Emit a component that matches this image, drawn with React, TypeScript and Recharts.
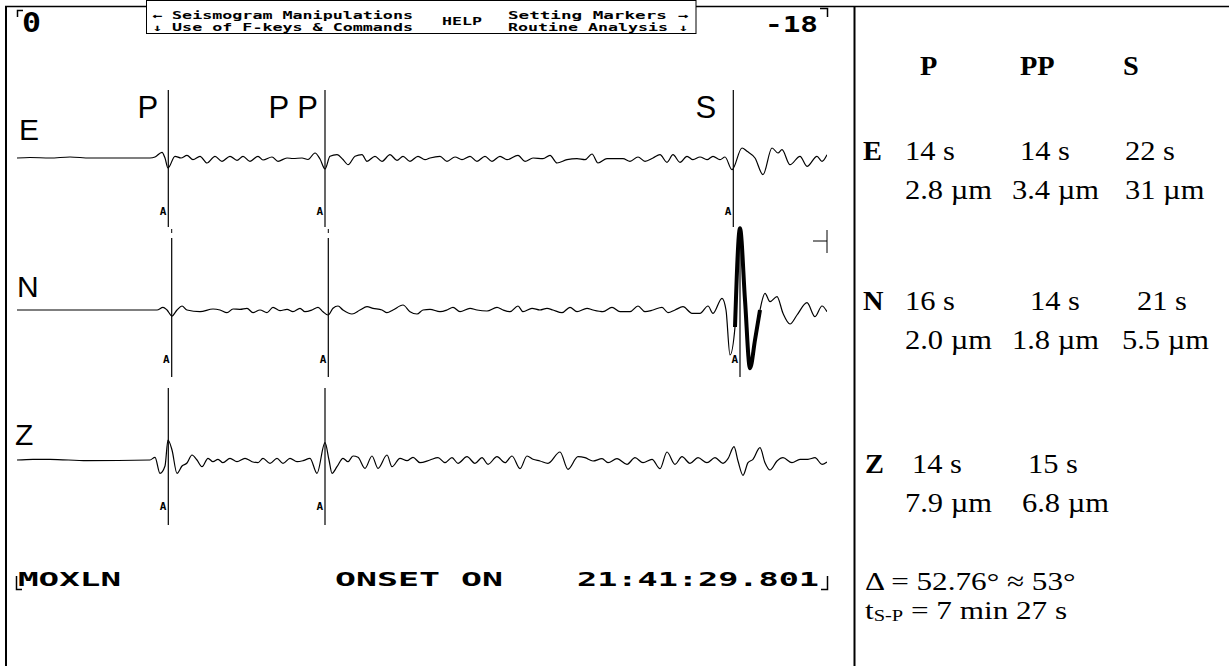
import React from 'react';
import { ComposedChart, Line, XAxis, YAxis, ReferenceLine } from 'recharts';

// t = screen column after the start of the trace, a = deflection (up is positive)
const traceE: [number, number][] = [
  [0, 0], [13, 0.5], [33, 0], [53, 1], [73, 0], [133, 0], [138, 1], [145, 5.7], [148, 0], [151, -10],
  [158, 1.7], [164, 0], [170, 2.7], [176, -1.7], [183, 1.7], [190, -5], [198, 1.7], [205, -3.3], [213, 1.7],
  [220, -2.3], [226, 1.7], [233, -3.3], [241, 1.7], [246, -2], [255, 1], [261, -3.3], [270, 0], [276, -0.5],
  [285, 0], [291, -1.5], [298, 5], [303, -1], [308, -11], [313, 1.7], [320, 3.3], [326, -1.5], [331, -6.7],
  [338, 1.7], [345, 3.3], [350, -3.3], [358, 1.7], [365, -3.3], [373, 3.3], [380, -2.3], [386, 1.7],
  [393, -3.3], [401, 1.7], [408, -1.7], [413, 0], [423, 1.7], [430, -3.3], [438, 1], [445, -1.7], [453, 1.7],
  [460, -3.3], [468, 1.7], [475, -3.3], [483, 1.7], [490, -1.7], [501, 2.7], [508, -3.3], [516, 0],
  [526, -0.7], [533, 2.7], [540, -5], [550, -1.7], [560, -0.7], [568, -1.7], [575, 4], [581, -5], [590, -0.7],
  [606, -0.7], [613, -3.3], [621, 1], [628, -3.3], [636, 0], [643, 3.3], [650, -4.3], [656, 3.3], [663, -4.3],
  [670, 1.7], [676, -1.7], [683, 1], [690, -1.7], [696, 1.7], [703, -1.7], [708, 1], [715, -11.7], [725, 10],
  [730, 6.7], [738, 0], [746, -16.7], [755, 10], [761, 5], [765, 8.3], [773, -6.7], [783, 1.7], [790, -8.3],
  [800, 1.7], [805, -3.3], [810, 3.3],
];

const traceN: [number, number][] = [
  [0, 0], [140, 0], [146, 2.7], [150, 0], [155, -6], [160, 0], [165, 4], [170, 0], [183, -1.7], [196, 1],
  [203, 0], [210, -2.7], [216, 1], [223, 0.7], [230, 1.7], [236, -2.7], [243, 0], [250, -2.7], [256, 2.7],
  [263, -0.7], [270, 0.7], [276, -1.7], [283, 1.7], [288, -1.7], [295, 0], [301, 2.7], [306, -1.7], [311, -5],
  [316, 1.7], [321, 4], [326, 0], [335, -4], [343, 0], [350, 3.3], [356, 1.7], [365, 0], [370, -2.7], [376, 0],
  [386, 5], [393, -1.7], [400, -4], [406, 0], [413, 0.7], [423, -1.7], [430, 0], [436, 2.7], [443, -1.7],
  [453, 1.7], [460, 0], [470, -1], [480, 2.7], [486, 0], [493, -1.7], [501, 4], [506, -1.7], [515, 1.7],
  [523, 0], [530, 1.7], [536, 0], [545, -2.7], [553, 2.7], [560, -1.7], [570, 1.7], [576, 0], [586, -1.7],
  [595, 2.7], [603, -1.7], [613, -1.7], [621, 4], [628, -1.7], [636, 0], [645, 2.7], [651, -2.7], [658, 0],
  [666, 3.3], [675, -3.3], [683, -3.3], [691, 4], [696, -3.3], [705, 11.7], [709, 0], [713, -45], [718, -17],
  [723, 81.7], [728, 10], [733, -58.3], [738, -30], [743, 0], [748, 16.7], [753, 8.3], [760, 13.3], [766, -3.3],
  [773, -14], [780, -5], [790, 7.3], [798, -6.7], [805, 4], [810, -1.7],
];

const traceZ: [number, number][] = [
  [0, 0], [16, 0.7], [33, 0.7], [70, -0.7], [133, 0], [138, 2.7], [143, -13.3], [148, -6], [151, 20], [155, 10],
  [160, -13.3], [165, -6], [170, -3], [175, 5], [180, 0], [185, -6.7], [191, 1.7], [196, -1.7], [201, 0.7],
  [206, -2.7], [213, 1.7], [220, -1.7], [228, 1.7], [235, -1.7], [241, -2.7], [246, 1.7], [253, -3.3],
  [260, 1.7], [266, -3.3], [273, 1.7], [280, -1.7], [286, -0.7], [293, 1.7], [300, -13.3], [308, 17.3],
  [312, 0], [315, -13.3], [320, -6.7], [326, 1.7], [331, -1.7], [336, 4], [341, 2.7], [348, -8.3], [355, 4],
  [361, -8.3], [370, 5], [375, -6.7], [383, 1.7], [390, -0.7], [396, 2.7], [403, -2.7], [413, 0], [421, 2.3],
  [428, -2.7], [435, 2.3], [441, -3.3], [450, 3.3], [458, -3.3], [465, 2.3], [471, -4.3], [480, 3.3],
  [488, -2.7], [495, 4], [503, -8.7], [510, 4], [516, 0.7], [523, -1], [531, -3.3], [543, 8], [551, -9.3],
  [561, 3.3], [568, 2.3], [576, -1], [585, 1.3], [591, -2.7], [600, 1.3], [610, -4.3], [618, 2.3], [626, -2.7],
  [635, 0.7], [643, -8.7], [650, 8], [658, -4.3], [665, 3.3], [673, -3.3], [681, 2.3], [690, -2.7], [698, 2.3],
  [706, -3.3], [711, 1.3], [717, 13.3], [721, -1], [726, -15.3], [731, -2.7], [736, 0.7], [743, 12.3],
  [748, -2.7], [753, -10], [760, -1], [766, 2.3], [775, -2.7], [783, 0.7], [791, 0.7], [798, 2.3], [805, -4.3],
  [810, -2],
];

// phase picks (same time units as the traces)
const picksE = [{ phase: 'P', t: 151.3 }, { phase: 'PP', t: 308 }, { phase: 'S', t: 716.3 }];
const picksN = [{ phase: 'P', t: 154.7 }, { phase: 'PP', t: 311.3 }, { phase: 'S', t: 723 }];
const picksZ = [{ phase: 'P', t: 151.3 }, { phase: 'PP', t: 308 }];

// part of the N trace that the program highlights (S wave)
const highlightN = [716, 743];

// readings table
const channels = ['E', 'N', 'Z'];
const phases = ['P', 'PP', 'S'];
const periodsE = [14, 14, 22];
const periodsN = [16, 14, 21];
const periodsZ = [14, 15];
const ampsE = [2.8, 3.4, 31];
const ampsN = [2.0, 1.8, 5.5];
const ampsZ = [7.9, 6.8];
const distance = 52.76;
const distanceRounded = 53;
const sMinusP = [7, 27];

const station = 'MOXLN';
const onset = '21:41:29.801';

const H = 666;
const SCREEN = "'DejaVu Sans Mono', monospace";
const SANS = "'Liberation Sans', Arial, sans-serif";
const SERIF = "'Liberation Serif', 'Times New Roman', serif";

const layout: Record<string, any> = {
  E: { base: 158, top: 68, bottom: -69, aDy: 12, trace: traceE, picks: picksE, label: [19, 140] },
  N: { base: 310, top: 72, bottom: -67, aDy: 14, trace: traceN, picks: picksN, label: [17, 297] },
  Z: { base: 460, top: 72, bottom: -65, aDy: 15, trace: traceZ, picks: picksZ, label: [15, 445] },
};
const labelGap: Record<string, number> = { P: 10, PP: 7, S: 17 };

const pickLabel = (phase: string | null, aDy: number) => (props: any) => {
  const vb = props.viewBox;
  if (!vb) return null;
  return (
    <g>
      {phase && (
        <text x={vb.x - labelGap[phase]} y={vb.y + 28} textAnchor="end" fontFamily={SANS} fontSize={31} fill="#000">
          {phase === 'PP' ? 'P P' : phase}
        </text>
      )}
      <text x={vb.x - 2} y={vb.y + vb.height - aDy} textAnchor="end" fontFamily={SCREEN} fontWeight="bold" fontSize={11} fill="#000">
        A
      </text>
    </g>
  );
};

const fmtAmp = (a: number) => (a >= 10 ? `${a}` : a.toFixed(1)) + ' µm';

function Traces() {
  const rows: Record<string, any[]> = {};
  channels.forEach((c) => (rows[c] = layout[c].trace.map(([t, a]: number[]) => ({ t, a }))));
  const thick = rows.N.filter((d) => d.t >= highlightN[0] && d.t <= highlightN[1]);

  return (
    <ComposedChart
      width={850}
      height={H}
      margin={{ top: 0, right: 23, bottom: 0, left: 17 }}
      style={{ position: 'absolute', left: 0, top: 0 }}
    >
      <XAxis type="number" dataKey="t" domain={[0, 810]} hide allowDataOverflow />
      {channels.map((c) => (
        <YAxis key={c} yAxisId={c} type="number" domain={[layout[c].base - H, layout[c].base]} hide allowDataOverflow />
      ))}
      {channels.map((c) =>
        layout[c].picks.map((p: any) => (
          <ReferenceLine
            key={c + p.phase}
            yAxisId={c}
            segment={[{ x: p.t, y: layout[c].top }, { x: p.t, y: layout[c].bottom }]}
            stroke="#000"
            strokeWidth={1.2}
            ifOverflow="visible"
            label={pickLabel(c === 'E' ? p.phase : null, layout[c].aDy)}
          />
        ))
      )}
      {picksN.map((p) => (
        <ReferenceLine
          key={'tick' + p.phase}
          yAxisId="N"
          segment={[{ x: p.t, y: p.phase === 'S' ? 80 : 81 }, { x: p.t, y: p.phase === 'S' ? 70 : 77 }]}
          stroke="#000"
          strokeWidth={p.phase === 'S' ? 2.5 : 1}
          ifOverflow="visible"
        />
      ))}
      <ReferenceLine yAxisId="N" segment={[{ x: 796, y: 69 }, { x: 810, y: 69 }]} stroke="#000" strokeWidth={1} ifOverflow="visible" />
      <ReferenceLine yAxisId="N" segment={[{ x: 810, y: 80 }, { x: 810, y: 57 }]} stroke="#000" strokeWidth={1} ifOverflow="visible" />
      {channels.map((c) => (
        <Line
          key={c}
          yAxisId={c}
          data={rows[c]}
          dataKey="a"
          type="monotone"
          stroke="#000"
          strokeWidth={1.2}
          dot={false}
          isAnimationActive={false}
        />
      ))}
      <Line
        yAxisId="N"
        data={thick}
        dataKey="a"
        type="monotone"
        stroke="#000"
        strokeWidth={4}
        dot={false}
        isAnimationActive={false}
      />
    </ComposedChart>
  );
}

function ScreenText({ x, y, w, size, bold, children }: any) {
  return (
    <text x={x} y={y} textLength={w} lengthAdjust="spacingAndGlyphs" fontFamily={SCREEN} fontSize={size} fontWeight={bold ? 'bold' : 'normal'} fill="#000">
      {children}
    </text>
  );
}

function Frame() {
  return (
    <svg width={1229} height={H} style={{ position: 'absolute', left: 0, top: 0 }}>
      <line x1={6} y1={6.5} x2={6} y2={H} stroke="#000" strokeWidth={2} />
      <line x1={5} y1={6.5} x2={1229} y2={6.5} stroke="#000" strokeWidth={1.5} />
      <line x1={854.5} y1={6.5} x2={854.5} y2={H} stroke="#000" strokeWidth={2} />

      <path d="M17.5 17 V10.5 H23" fill="none" stroke="#000" strokeWidth={1.5} />
      <ScreenText x={22} y={32} w={19} size={26} bold>0</ScreenText>
      <ScreenText x={765} y={32} w={53} size={21} bold>-18</ScreenText>
      <path d="M820 8.5 H827.5 V17" fill="none" stroke="#000" strokeWidth={1.5} />

      <rect x={146.5} y={0.5} width={549.5} height={33} fill="#fff" stroke="#000" strokeWidth={1} />
      <ScreenText x={152} y={19} w={261} size={10} bold>← Seismogram Manipulations</ScreenText>
      <ScreenText x={152} y={30.5} w={261} size={10} bold>↓ Use of F-keys &amp; Commands</ScreenText>
      <ScreenText x={442} y={25} w={40} size={10} bold>HELP</ScreenText>
      <ScreenText x={508} y={19} w={180} size={10} bold>Setting  Markers →</ScreenText>
      <ScreenText x={508} y={30.5} w={180} size={10} bold>Routine Analysis ↓</ScreenText>

      {channels.map((c) => (
        <text key={c} x={layout[c].label[0]} y={layout[c].label[1]} fontFamily={SANS} fontSize={30} fill="#000">
          {c}
        </text>
      ))}

      <path d="M16.5 576 V589.5 H22" fill="none" stroke="#000" strokeWidth={1.5} />
      <ScreenText x={18} y={586} w={103} size={19} bold>{station}</ScreenText>
      <ScreenText x={335} y={586} w={168} size={19} bold>ONSET ON</ScreenText>
      <ScreenText x={577} y={586} w={242} size={19} bold>{onset}</ScreenText>
      <path d="M821 589.5 H827.5 V576" fill="none" stroke="#000" strokeWidth={1.5} />

      <Readings />
    </svg>
  );
}

// right-hand text is drawn a little wider than the font, as in the original screen copy
function Cell({ x, y, bold, size = 27, sx = 1.13, children }: any) {
  return (
    <text transform={`translate(${x} ${y}) scale(${sx} 1)`} fontFamily={SERIF} fontSize={size} fontWeight={bold ? 'bold' : 'normal'} fill="#000">
      {children}
    </text>
  );
}

function Readings() {
  const periods: Record<string, number[]> = { E: periodsE, N: periodsN, Z: periodsZ };
  const amps: Record<string, number[]> = { E: ampsE, N: ampsN, Z: ampsZ };
  const rowY: Record<string, number[]> = { E: [160, 199], N: [310, 349], Z: [473, 512] };
  const labelX: Record<string, number> = { E: 863, N: 863, Z: 865 };
  const colX: Record<string, number[][]> = {
    E: [[905, 1020, 1125], [905, 1012, 1125]],
    N: [[905, 1030, 1137], [905, 1012, 1122]],
    Z: [[912, 1028], [905, 1022]],
  };
  const headX = [920, 1020, 1123];
  return (
    <g>
      {phases.map((p, i) => (
        <Cell key={p} x={headX[i]} y={75} bold sx={1.05}>{p}</Cell>
      ))}
      {channels.map((c) => (
        <g key={c}>
          <Cell x={labelX[c]} y={rowY[c][0]} bold sx={1.05}>{c}</Cell>
          {periods[c].map((v, i) => (
            <Cell key={'p' + i} x={colX[c][0][i]} y={rowY[c][0]}>{`${v} s`}</Cell>
          ))}
          {amps[c].map((v, i) => (
            <Cell key={'a' + i} x={colX[c][1][i]} y={rowY[c][1]}>{fmtAmp(v)}</Cell>
          ))}
        </g>
      ))}
      <Cell x={865} y={590} size={26} sx={1.2}>{`Δ = ${distance}° ≈ ${distanceRounded}°`}</Cell>
      <text transform="translate(865 619) scale(1.2 1)" fontFamily={SERIF} fontSize={26} fill="#000">
        t<tspan fontSize={17} dy={2}>S-P</tspan>
        <tspan dy={-2}>{` = ${sMinusP[0]} min ${sMinusP[1]} s`}</tspan>
      </text>
    </g>
  );
}

export default function App() {
  return (
    <div style={{ position: 'absolute', left: 0, top: 0, width: 1229, height: H, background: '#fff', overflow: 'hidden' }}>
      <Frame />
      <Traces />
    </div>
  );
}
